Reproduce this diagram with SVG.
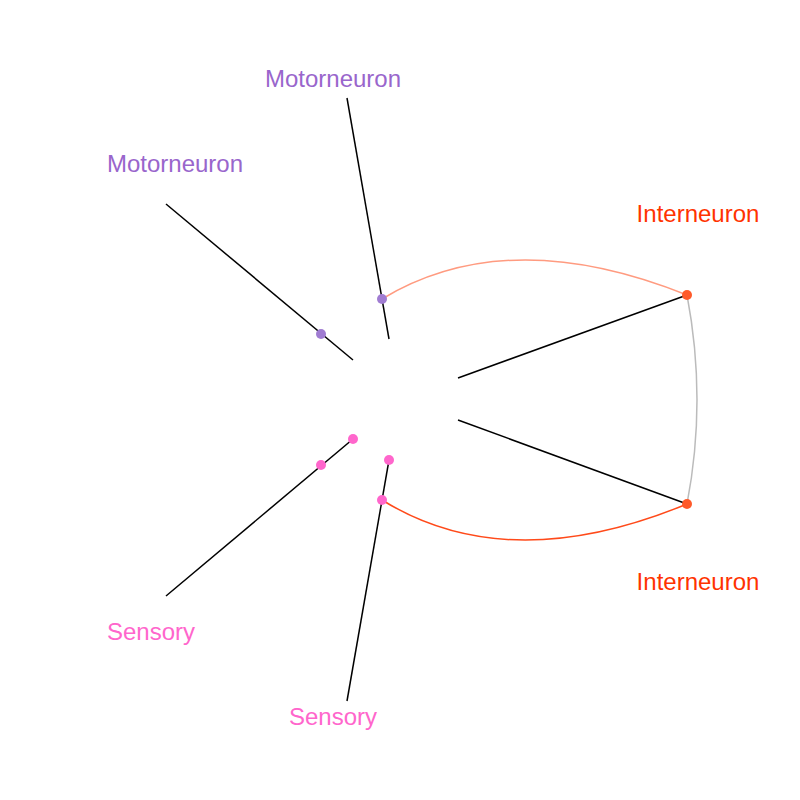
<svg xmlns="http://www.w3.org/2000/svg" width="800" height="800" viewBox="0 0 800 800">
<style>
.lbl{font-family:"Liberation Sans",Arial,sans-serif;font-size:24px;text-anchor:middle}
.motor{fill:#9966CC}
.inter{fill:#FF3300}
.sens{fill:#FF66CC}
.spoke{stroke:#000;stroke-width:1.5;fill:none}
.edge{fill:none;stroke-width:1.5}
</style>
<rect width="800" height="800" fill="#fff"/>
<g id="connectors">
<line class="spoke" x1="347" y1="98" x2="389" y2="339"/>
<line class="spoke" x1="166" y1="204" x2="353" y2="360"/>
<line class="spoke" x1="458" y1="378" x2="687" y2="295"/>
<line class="spoke" x1="458" y1="420" x2="687" y2="504"/>
<line class="spoke" x1="166" y1="596" x2="353" y2="439"/>
<line class="spoke" x1="347" y1="701" x2="389" y2="460"/>
<path class="edge" stroke="#FF9B80" d="M382 299 Q508 223 687 295"/>
<path class="edge" stroke="#FF4A1A" d="M382 500 Q508 578 687 504"/>
<path class="edge" stroke="#BBBBBB" d="M687 295 Q707 400 687 504"/>
</g>
<g id="motor-top">
<text class="lbl motor" x="333" y="87">Motorneuron</text>
<circle cx="382" cy="299" r="5" fill="#A07CD2"/>
</g>
<g id="motor-left">
<text class="lbl motor" x="175" y="172">Motorneuron</text>
<circle cx="321" cy="334" r="5" fill="#A07CD2"/>
</g>
<g id="inter-top">
<text class="lbl inter" x="698" y="222">Interneuron</text>
<circle cx="687" cy="295" r="5" fill="#FF5A2A"/>
</g>
<g id="inter-bottom">
<text class="lbl inter" x="698" y="590">Interneuron</text>
<circle cx="687" cy="504" r="5" fill="#FF5A2A"/>
</g>
<g id="sensory-left">
<text class="lbl sens" x="151" y="640">Sensory</text>
<circle cx="353" cy="439" r="5" fill="#FF66CC"/>
<circle cx="321" cy="465" r="5" fill="#FF66CC"/>
</g>
<g id="sensory-bottom">
<text class="lbl sens" x="333" y="725">Sensory</text>
<circle cx="389" cy="460" r="5" fill="#FF66CC"/>
<circle cx="382" cy="500" r="5" fill="#FF66CC"/>
</g>
</svg>
